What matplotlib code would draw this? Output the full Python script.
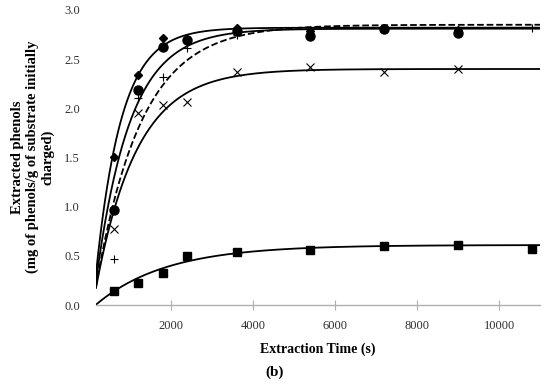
import matplotlib
matplotlib.use("Agg")
import matplotlib.pyplot as plt
import numpy as np

plt.rcParams['font.family'] = ['Liberation Serif', 'DejaVu Serif']

# sampling times (s)
time_s = [600, 1200, 1800, 2400, 3600, 5400, 7200, 9000, 10800]

# experimental points (mg phenols / g substrate); None = not visible
diamond = [1.50, 2.34, 2.72, 2.70, 2.82, 2.79, 2.82, 2.80, None]
circle = [0.97, 2.19, 2.62, 2.69, 2.79, 2.74, 2.81, 2.77, None]
plus = [0.47, 2.11, 2.32, 2.61, 2.75, None, None, None, 2.82]
cross = [0.77, 1.95, 2.03, 2.06, 2.37, 2.42, 2.37, 2.40, None]
square = [0.14, 0.22, 0.33, 0.50, 0.54, 0.56, 0.60, 0.61, 0.57]

# fitted model curves y = A*(1 - exp(-k*(t - t0)))
fit_A = [2.82, 2.81, 2.85, 2.40, 0.61]
fit_k = [0.0016, 0.0012, 0.0009, 0.0010, 0.00058]
fit_t0 = [95, 95, 95, 95, 160]
fit_style = ['-', '-', '--', '-', '-']

fig = plt.figure(figsize=(5.5, 3.84), dpi=100)
ax = fig.add_axes([0.1745, 0.2057, 0.8075, 0.7683])

t = np.linspace(170, 11000, 600)
for A, k, t0, ls in zip(fit_A, fit_k, fit_t0, fit_style):
    ax.plot(t, A * (1 - np.exp(-k * (t - t0))), color='black', lw=1.3, ls=ls, zorder=2)


def pts(vals):
    xs = [x for x, v in zip(time_s, vals) if v is not None]
    ys = [v for v in vals if v is not None]
    return xs, ys


ax.plot(*pts(diamond), 'D', color='black', ms=4.5, zorder=3)
ax.plot(*pts(circle), 'o', color='black', ms=6.5, zorder=3)
ax.plot(*pts(plus), '+', color='black', ms=6, mew=0.8, zorder=3)
ax.plot(*pts(cross), 'x', color='black', ms=6, mew=0.8, zorder=3)
ax.plot(*pts(square), 's', color='black', ms=6, zorder=3)

ax.set_xlim(170, 11000)
ax.set_ylim(0, 3.0)
ax.set_xticks([2000, 4000, 6000, 8000, 10000])
ax.set_yticks([0.0, 0.5, 1.0, 1.5, 2.0, 2.5, 3.0])
ax.set_yticklabels(['%.1f' % v for v in ax.get_yticks()])

for s in ['top', 'right', 'left']:
    ax.spines[s].set_visible(False)
ax.spines['bottom'].set_color('#b0b0b0')
ax.spines['bottom'].set_linewidth(1.0)
ax.tick_params(axis='x', direction='inout', length=7, color='#b0b0b0',
               labelsize=9, labelcolor='#303030', pad=7)
ax.tick_params(axis='y', length=0, labelsize=9, labelcolor='#303030', pad=11.5)

ax.set_xlabel('Extraction Time (s)', fontsize=10, fontweight='bold', labelpad=8)
fig.text(33 / 550, 1 - 157 / 384,
         'Extracted phenols\n(mg of phenols/g of substrate initially\ncharged)',
         rotation=90, ha='center', va='center', multialignment='center',
         fontsize=10.5, fontweight='bold', linespacing=1.15)
fig.text(275 / 550, 1 - 372 / 384, '(b)', ha='center', va='center',
         fontsize=11, fontweight='bold')

fig.savefig('out.png', dpi=100)
